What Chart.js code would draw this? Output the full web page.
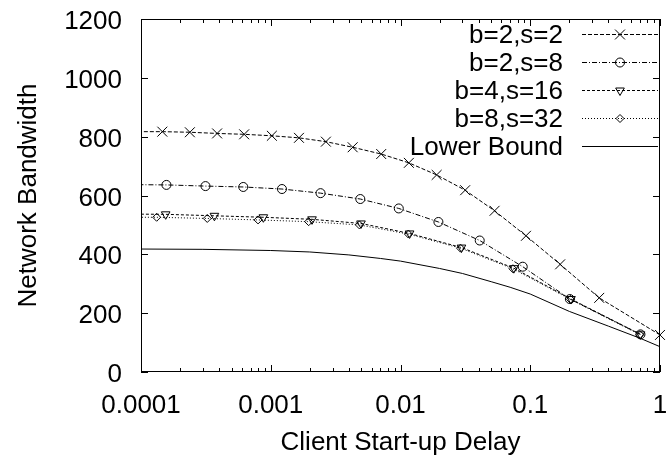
<!DOCTYPE html>
<html><head><meta charset="utf-8">
<script src="https://cdn.jsdelivr.net/npm/chart.js@4/dist/chart.umd.min.js"></script>
<style>html,body{margin:0;padding:0;background:#fff;} canvas{display:block;}</style>
</head><body>
<canvas id="c" width="668" height="458"></canvas>
<script>
// ---- data ----
const seriesNames = ['b=2,s=2', 'b=2,s=8', 'b=4,s=16', 'b=8,s=32', 'Lower Bound'];

const xB2S2 = [0.000085, 0.000146, 0.000238, 0.000386, 0.000624, 0.00102, 0.00165, 0.00266, 0.00428, 0.0071, 0.0116, 0.019, 0.0315, 0.0531, 0.0927, 0.17, 0.34, 1.0];
const yB2S2 = [817, 817, 815, 811, 808, 803, 796, 783, 764, 741, 711, 670, 618, 548, 463, 366, 252, 126];

const xB2S8 = [0.00008, 0.000157, 0.000314, 0.000614, 0.00122, 0.00242, 0.0049, 0.0097, 0.0196, 0.0408, 0.0875, 0.202, 0.707];
const yB2S8 = [637, 636, 632, 629, 622, 608, 588, 556, 510, 447, 358, 248, 128];

const xB4S16 = [0.00007, 0.000155, 0.000368, 0.000877, 0.00208, 0.00496, 0.01175, 0.0295, 0.0747, 0.206, 0.707];
const yB4S16 = [537, 536, 531, 526, 519, 505, 471, 423, 353, 248, 128];

const xB8S32 = [0.00007, 0.000132, 0.000324, 0.000798, 0.00196, 0.00482, 0.0115, 0.029, 0.0735, 0.204, 0.70];
const yB8S32 = [526, 526, 522, 517, 511, 500, 469, 421, 351, 247, 127];

const xLower = [0.0001, 0.0003, 0.001, 0.002, 0.004, 0.007, 0.01, 0.02, 0.03, 0.05, 0.07, 0.1, 0.2, 0.4, 0.7, 1.0];
const yLower = [418, 417, 413, 408, 398, 386, 377, 352, 335, 307, 288, 265, 206, 156, 115, 86];

const xTickLabels = ['0.0001', '0.001', '0.01', '0.1', '1'];
const yTickLabels = ['0', '200', '400', '600', '800', '1000', '1200'];
const xTitle = 'Client Start-up Delay';
const yTitle = 'Network Bandwidth';

// ---- build ----
const FONT = '"Liberation Sans", Arial, Helvetica, sans-serif';
const FS = 26;
const pts = (xs, ys) => xs.map((x, i) => ({ x: x, y: ys[i] }));
const xMajors = xTickLabels.map(Number);
const yMajors = yTickLabels.map(Number);

function mk(label, xs, ys, dash, style, radius, rot) {
  return {
    label: label, data: pts(xs, ys),
    borderColor: '#000', borderWidth: 1, borderDash: dash,
    pointStyle: style, pointRadius: radius, pointRotation: rot || 0,
    pointBorderColor: '#000', pointBackgroundColor: 'rgba(0,0,0,0)', pointBorderWidth: 1,
    pointHoverRadius: radius, tension: 0, fill: false,
    clip: { left: 0, top: false, right: false, bottom: false }
  };
}

const datasets = [
  mk(seriesNames[0], xB2S2, yB2S2, [4, 2], 'crossRot', 7, 0),
  mk(seriesNames[1], xB2S8, yB2S8, [5, 2, 1, 2], 'circle', 4.5, 0),
  mk(seriesNames[2], xB4S16, yB4S16, [3, 2], 'triangle', 5, 180),
  mk(seriesNames[3], xB8S32, yB8S32, [1, 2], 'rectRot', 4, 0),
  mk(seriesNames[4], xLower, yLower, [], false, 0, 0)
];

function drawMarker(ctx, style, r, rot, x, y) {
  if (!style || r <= 0) return;
  ctx.fillStyle = 'rgba(0,0,0,0)';
  if (Chart.helpers && Chart.helpers.drawPoint) {
    Chart.helpers.drawPoint(ctx, { pointStyle: style, radius: r, rotation: rot, borderWidth: 1 }, x, y);
    return;
  }
  ctx.beginPath();
  const a = rot * Math.PI / 180;
  if (style === 'circle') { ctx.arc(x, y, r, 0, Math.PI * 2); }
  else if (style === 'crossRot') { const o = r * Math.SQRT1_2; ctx.moveTo(x - o, y - o); ctx.lineTo(x + o, y + o); ctx.moveTo(x - o, y + o); ctx.lineTo(x + o, y - o); }
  else if (style === 'triangle') { for (let k = 0; k < 3; k++) { const t = a + k * 2 * Math.PI / 3; const px = x + Math.sin(t) * r, py = y - Math.cos(t) * r; k ? ctx.lineTo(px, py) : ctx.moveTo(px, py); } ctx.closePath(); }
  else if (style === 'rectRot') { ctx.moveTo(x, y - r); ctx.lineTo(x + r, y); ctx.lineTo(x, y + r); ctx.lineTo(x - r, y); ctx.closePath(); }
  ctx.stroke();
}

// major ticks from the labels, minor ticks 2..9 within each decade
function buildXTicks() {
  const t = [];
  for (let i = 0; i < xMajors.length; i++) {
    t.push({ value: xMajors[i], major: true });
    if (i < xMajors.length - 1) for (let k = 2; k <= 9; k++) t.push({ value: k * xMajors[i], major: false });
  }
  return t;
}
const xTickList = buildXTicks();

const framePlugin = {
  id: 'frame',
  afterDraw(chart) {
    const ctx = chart.ctx, a = chart.chartArea;
    const xs = chart.scales.x, ys = chart.scales.y;
    ctx.save();
    ctx.strokeStyle = '#000'; ctx.lineWidth = 1; ctx.setLineDash([]);
    // border box
    ctx.strokeRect(Math.round(a.left) + 0.5, Math.round(a.top) + 0.5, Math.round(a.right - a.left) - 1, Math.round(a.bottom - a.top) - 1);
    // inward tick marks (bottom + mirrored top, left + mirrored right)
    ctx.beginPath();
    xTickList.forEach(t => {
      const px = Math.round(xs.getPixelForValue(t.value)) + 0.5;
      const len = t.major ? 7 : 4;
      ctx.moveTo(px, a.bottom); ctx.lineTo(px, a.bottom - len);
      ctx.moveTo(px, a.top); ctx.lineTo(px, a.top + len);
    });
    yMajors.forEach(v => {
      const py = Math.round(ys.getPixelForValue(v)) + 0.5;
      ctx.moveTo(a.left, py); ctx.lineTo(a.left + 7, py);
      ctx.moveTo(a.right, py); ctx.lineTo(a.right - 7, py);
    });
    ctx.stroke();
    // tick labels
    ctx.font = FS + 'px ' + FONT;
    ctx.fillStyle = '#000';
    ctx.textBaseline = 'alphabetic';
    ctx.textAlign = 'center';
    xMajors.forEach((v, i) => {
      ctx.fillText(xTickLabels[i], xs.getPixelForValue(v), a.bottom + 41);
    });
    ctx.textAlign = 'right';
    yMajors.forEach((v, i) => {
      ctx.fillText(yTickLabels[i], a.left - 19, ys.getPixelForValue(v) + 10);
    });
    // legend (inside, top right)
    chart.data.datasets.forEach((ds, i) => {
      const ry = 33.5 + i * 28.1;
      ctx.fillStyle = '#000';
      ctx.fillText(ds.label, 563, ry + 9);
      ctx.setLineDash(ds.borderDash || []);
      ctx.beginPath();
      ctx.moveTo(582, Math.round(ry) + 0.5); ctx.lineTo(658, Math.round(ry) + 0.5);
      ctx.stroke();
      ctx.setLineDash([]);
      drawMarker(ctx, ds.pointStyle, ds.pointRadius, ds.pointRotation, 620, Math.round(ry) + 0.5);
    });
    ctx.restore();
  }
};

Chart.defaults.font.family = FONT;
Chart.defaults.font.size = FS;
Chart.defaults.color = '#000';

new Chart(document.getElementById('c'), {
  type: 'line',
  data: { datasets: datasets },
  options: {
    responsive: false, animation: false, devicePixelRatio: 1, events: [],
    layout: { padding: { top: 19, right: 3, left: 0, bottom: 0 } },
    plugins: { legend: { display: false }, tooltip: { enabled: false } },
    scales: {
      x: {
        type: 'logarithmic', min: 0.0001, max: 1,
        grid: { display: false, drawTicks: false }, border: { display: false },
        ticks: { display: false },
        afterFit(scale) { scale.height = 86; },
        title: { display: true, text: xTitle, padding: { top: 0, bottom: 0 } }
      },
      y: {
        type: 'linear', min: 0, max: 1200,
        grid: { display: false, drawTicks: false }, border: { display: false },
        ticks: { display: false },
        afterFit(scale) { scale.width = 141; },
        title: { display: true, text: yTitle, padding: { top: 13, bottom: 0 } }
      }
    }
  },
  plugins: [framePlugin]
});
</script>
</body></html>
